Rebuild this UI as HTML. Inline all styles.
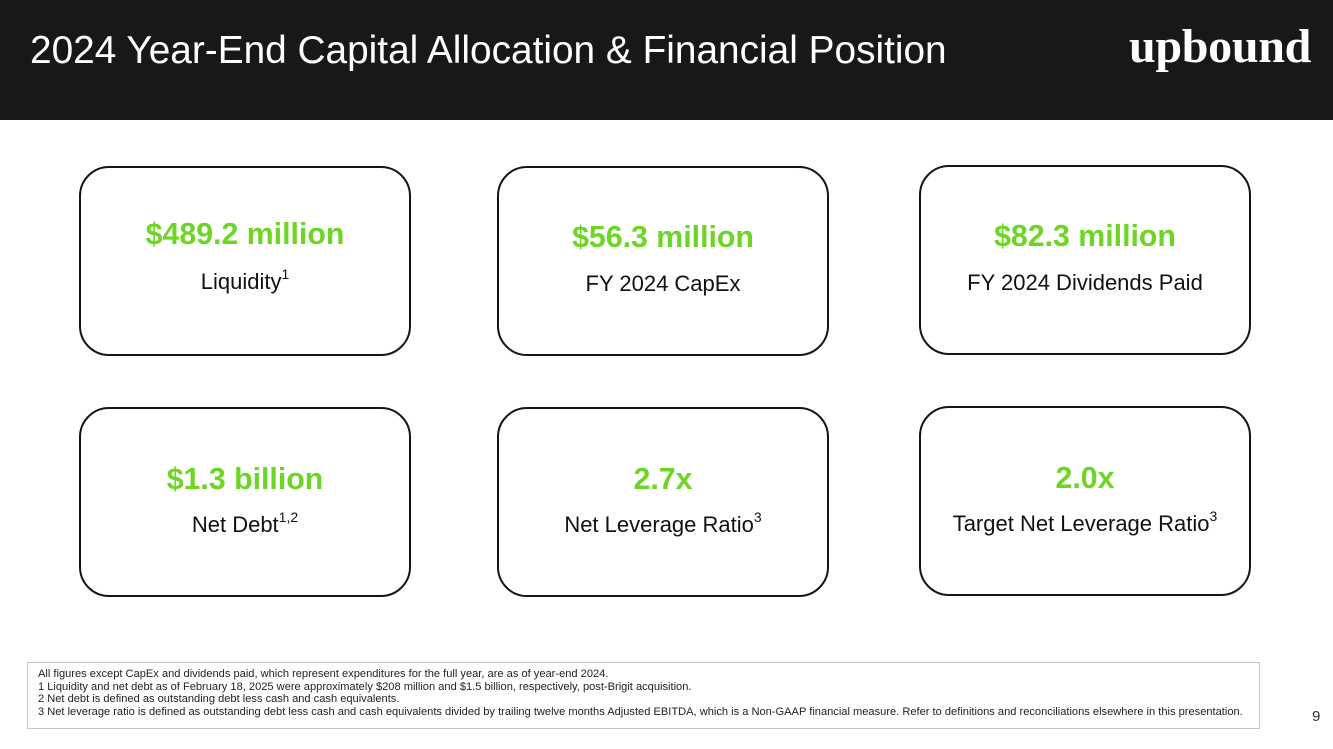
<!DOCTYPE html>
<html>
<head>
<meta charset="utf-8">
<style>
  html, body { margin:0; padding:0; }
  body { width:1333px; height:749px; position:relative; background:#fff; overflow:hidden;
         font-family:"Liberation Sans", Arial, sans-serif; }
  .hdr { position:absolute; left:0; top:0; width:1333px; height:120px; background:#181818; }
  .title { position:absolute; left:30px; top:29px; font-size:38.8px; line-height:44px; color:#fff; white-space:nowrap; }
  .logo { position:absolute; left:1129px; top:21px; font-family:"Liberation Serif", "DejaVu Serif", serif; font-weight:bold;
          font-size:48px; line-height:52px; color:#fff; letter-spacing:-0.3px; white-space:nowrap; }
  .box { position:absolute; width:332px; height:190px; box-sizing:border-box; border:2.5px solid #151515; border-radius:30px; }
  .val { position:absolute; left:0; width:100%; text-align:center; font-weight:bold; font-size:30.3px; line-height:30px; color:#6dd524; white-space:nowrap; }
  .sub { position:absolute; left:0; width:100%; text-align:center; font-size:22px; line-height:24px; color:#111; white-space:nowrap; }
  .sub sup { font-size:14px; line-height:0; position:relative; top:-2px; vertical-align:super; }
  .foot { position:absolute; left:27px; top:662px; width:1233px; height:67px; box-sizing:border-box; border:1.5px solid #c4c4c4; }
  .foot div { position:absolute; left:10px; font-size:11.1px; line-height:12px; color:#222; white-space:nowrap; }
  .pg { position:absolute; left:1312px; top:708px; font-size:15px; line-height:18px; color:#333; }
</style>
</head>
<body>
  <div class="hdr"></div>
  <div class="title">2024 Year-End Capital Allocation &amp; Financial Position</div>
  <div class="logo">upbound</div>

  <div class="box" style="left:79px; top:166px;">
    <div class="val" style="top:52px;">$489.2 million</div>
    <div class="sub" style="top:102px;">Liquidity<sup>1</sup></div>
  </div>
  <div class="box" style="left:497px; top:166px;">
    <div class="val" style="top:55px;">$56.3 million</div>
    <div class="sub" style="top:104px;">FY 2024 CapEx</div>
  </div>
  <div class="box" style="left:919px; top:165px;">
    <div class="val" style="top:55px;">$82.3 million</div>
    <div class="sub" style="top:104px;">FY 2024 Dividends Paid</div>
  </div>

  <div class="box" style="left:79px; top:407px;">
    <div class="val" style="top:56px;">$1.3 billion</div>
    <div class="sub" style="top:104px;">Net Debt<sup>1,2</sup></div>
  </div>
  <div class="box" style="left:497px; top:407px;">
    <div class="val" style="top:56px;">2.7x</div>
    <div class="sub" style="top:104px;">Net Leverage Ratio<sup>3</sup></div>
  </div>
  <div class="box" style="left:919px; top:406px;">
    <div class="val" style="top:56px;">2.0x</div>
    <div class="sub" style="top:104px;">Target Net Leverage Ratio<sup>3</sup></div>
  </div>

  <div class="foot">
    <div style="top:4.5px;">All figures except CapEx and dividends paid, which represent expenditures for the full year, are as of year-end 2024.</div>
    <div style="top:17.5px;">1 Liquidity and net debt as of February 18, 2025 were approximately $208 million and $1.5 billion, respectively, post-Brigit acquisition.</div>
    <div style="top:29.5px;">2 Net debt is defined as outstanding debt less cash and cash equivalents.</div>
    <div style="top:42.5px;">3 Net leverage ratio is defined as outstanding debt less cash and cash equivalents divided by trailing twelve months Adjusted EBITDA, which is a Non-GAAP financial measure. Refer to definitions and reconciliations elsewhere in this presentation.</div>
  </div>
  <div class="pg">9</div>
</body>
</html>
